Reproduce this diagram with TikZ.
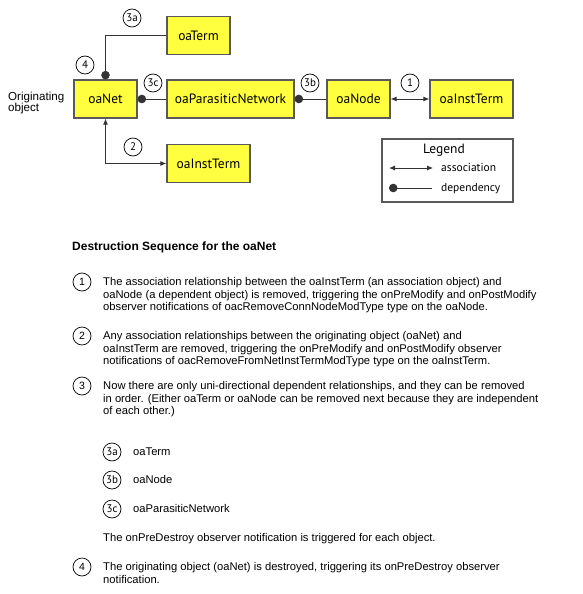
\documentclass[tikz,border=0pt]{standalone}
\usepackage{fontspec}
\setmainfont{Liberation Sans}
\newfontfamily\diagfont{PT Sans}
\usetikzlibrary{arrows.meta}
\usetikzlibrary{positioning}
\definecolor{oayellow}{RGB}{255,255,64}

\begin{document}
\begin{tikzpicture}[x=1pt, y=-1pt]
	\tikzstyle{obj}=[draw=black!65, line width=1.2pt, fill=oayellow, inner sep=0pt,
	                        minimum height=38pt, font=\diagfont\fontsize{13.5}{15}\selectfont];
	\tikzstyle{num}=[circle, draw, line width=0.7pt, minimum size=18pt, inner sep=0pt,
	                        font=\diagfont\fontsize{11}{12}\selectfont];
	\tikzstyle{dep}=[draw=black!80, line width=0.9pt, -{Circle[length=8.5pt]}];
	\tikzstyle{ass}=[draw=black!80, line width=0.9pt,
	                        {Latex[length=6pt, width=5pt]}-{Latex[length=6pt, width=5pt]}];
	\tikzstyle{txt}=[anchor=base west, align=left, inner sep=0pt, font=\fontsize{11.2}{12.5}\selectfont];
	\useasboundingbox (0,0) rectangle (583,594);
	\node[obj, minimum width=63pt] (net) at (105.5,99) {oaNet};
	\node[obj, minimum width=63pt] (term) at (198.5,35.5) {oaTerm};
	\node[obj, minimum width=127pt] (para) at (230.5,99) {oaParasiticNetwork};
	\node[obj, minimum width=83pt] (inst2) at (208.5,163.5) {oaInstTerm};
	\node[obj, minimum width=63pt] (node) at (358.5,99) {oaNode};
	\node[obj, minimum width=83pt] (inst1) at (471.5,99) {oaInstTerm};
	\node[txt, font=\fontsize{11.6}{11.7}\selectfont] (orig) at (8,111.7) {Originating\\object};
	\foreach \n/\x/\y in {3a/132/18, 4/85/65, 3c/153/83, 2/133/147, 3b/310/83, 1/410/83}
	{\node[num] (d\n) at (\x,\y) {\n};}
	\draw[dep] (term.west) -| (net.north);
	\draw[dep] (para.west) -- (net.east);
	\draw[dep] (node.west) -- (para.east);
	\draw[ass] (node.east) -- (inst1.west);
	\draw[ass] (net.south) |- (inst2.west);
	\node[draw=black!65, line width=1.2pt, minimum width=131pt, minimum height=63pt] (legend) at (447.5,170.5) {};
	\node[anchor=base, inner sep=0pt, font=\diagfont\fontsize{13.5}{15}\selectfont] (legtitle) at (444,153) {Legend};
	\coordinate (la1) at (389,168);
	\coordinate (la2) at (433,168);
	\coordinate (ld1) at (432,188);
	\coordinate (ld2) at (389,188);
	\draw[ass] (la1) -- (la2);
	\draw[dep] (ld1) -- (ld2);
	\node[txt, font=\diagfont\fontsize{11.5}{13}\selectfont] (lass) at (441,171) {association};
	\node[txt, font=\diagfont\fontsize{11.5}{13}\selectfont] (ldep) at (441,191) {dependency};
	\node[txt, font=\bfseries\fontsize{12}{14}\selectfont] (title) at (72,250) {Destruction Sequence for the oaNet};
	\foreach \n/\y in {1/282, 2/336, 3/386, 4/567}
	{\node[num, font=\fontsize{10.5}{12}\selectfont] (s\n) at (82,\y) {\n};}
	\foreach \n/\y/\t in {3a/452/oaTerm, 3b/480/oaNode, 3c/509/oaParasiticNetwork}
	{\node[num] (s\n) at (112,\y) {\n};
	 \node[txt] (t\n) at (133,\y+3.5) {\t};}
	\node[txt] (t1) at (103,310.5) {The association relationship between the oaInstTerm (an association object) and\\
		oaNode (a dependent object) is removed, triggering the onPreModify and onPostModify\\
		observer notifications of oacRemoveConnNodeModType type on the oaNode.};
	\node[txt] (t2) at (103,364.5) {Any association relationships between the originating object (oaNet) and\\
		oaInstTerm are removed, triggering the onPreModify and onPostModify observer\\
		notifications of oacRemoveFromNetInstTermModType type on the oaInstTerm.};
	\node[txt] (t3) at (103,414.5) {Now there are only uni-directional dependent relationships, and they can be removed\\
		in order. (Either oaTerm or oaNode can be removed next because they are independent\\
		of each other.)};
	\node[txt] (tpre) at (103,541.5) {The onPreDestroy observer notification is triggered for each object.};
	\node[txt] (t4) at (103,583) {The originating object (oaNet) is destroyed, triggering its onPreDestroy observer\\
		notification.};
\end{tikzpicture}
\end{document}
